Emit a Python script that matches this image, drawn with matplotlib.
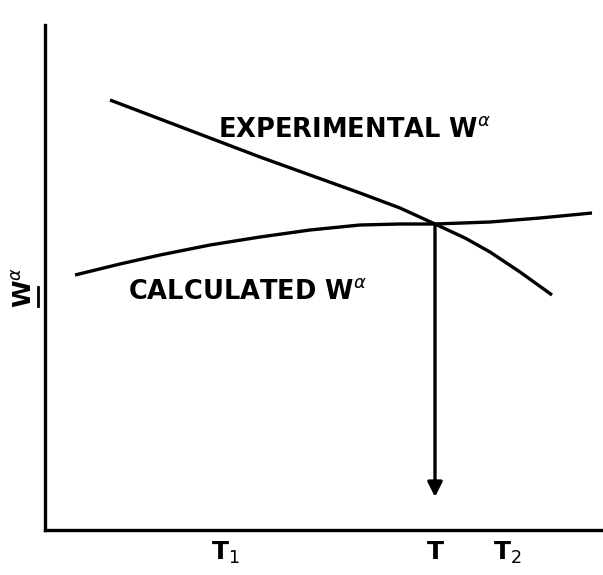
import matplotlib
matplotlib.use("Agg")
import matplotlib.pyplot as plt

plt.rcParams['font.family'] = ['DejaVu Sans']
plt.rcParams['mathtext.fontset'] = 'dejavusans'

# temperature axis (arbitrary units) and the two W-alpha curves
t_exp = [65, 115, 165, 215, 265, 315, 355, 390, 420, 445, 475, 507]
w_exp = [430, 411, 392, 373, 355, 337, 322, 306, 292, 278, 258, 235]
t_calc = [30, 75, 115, 165, 215, 265, 315, 355, 390, 445, 495, 547]
w_calc = [255, 266, 275, 285, 293, 300, 305, 306, 306, 308, 312, 317]

# crossing point and where the arrow ends on the T axis
t_cross = 390
w_cross = 306
w_arrow_end = 33

tick_pos = [180, 390, 462]
tick_txt = [r'T$_1$', 'T', r'T$_2$']

fig = plt.figure(figsize=(6.03, 5.75), dpi=100)
ax = fig.add_axes([45/603, 45/575, 558/603, 505/575])
ax.set_xlim(0, 558)
ax.set_ylim(0, 505)

ax.plot(t_exp, w_exp, color='black', lw=2.4, solid_capstyle='butt')
ax.plot(t_calc, w_calc, color='black', lw=2.4, solid_capstyle='butt')

ax.annotate('', xy=(t_cross, w_arrow_end), xytext=(t_cross, w_cross),
            arrowprops=dict(arrowstyle='-|>', color='black', lw=2.4,
                            mutation_scale=22, shrinkA=0, shrinkB=0))

ax.text(173, 400, r'EXPERIMENTAL W$^{\alpha}$', fontsize=18.5, fontweight='bold',
        ha='left', va='center')
ax.text(83, 238, r'CALCULATED W$^{\alpha}$', fontsize=18.5, fontweight='bold',
        ha='left', va='center')

for x, s in zip(tick_pos, tick_txt):
    ax.text(x, -10, s, fontsize=18, fontweight='bold', ha='center', va='top')

# y label: W with alpha, underlined
ax.text(-20, 243, r'W$^{\alpha}$', fontsize=18, fontweight='bold', rotation=90,
        ha='center', va='center')
ax.plot([-7, -7], [224, 243], color='black', lw=2, clip_on=False)

for side in ['top', 'right']:
    ax.spines[side].set_visible(False)
for side in ['left', 'bottom']:
    ax.spines[side].set_linewidth(2.4)
ax.set_xticks([])
ax.set_yticks([])

fig.savefig('out.png', dpi=100)
